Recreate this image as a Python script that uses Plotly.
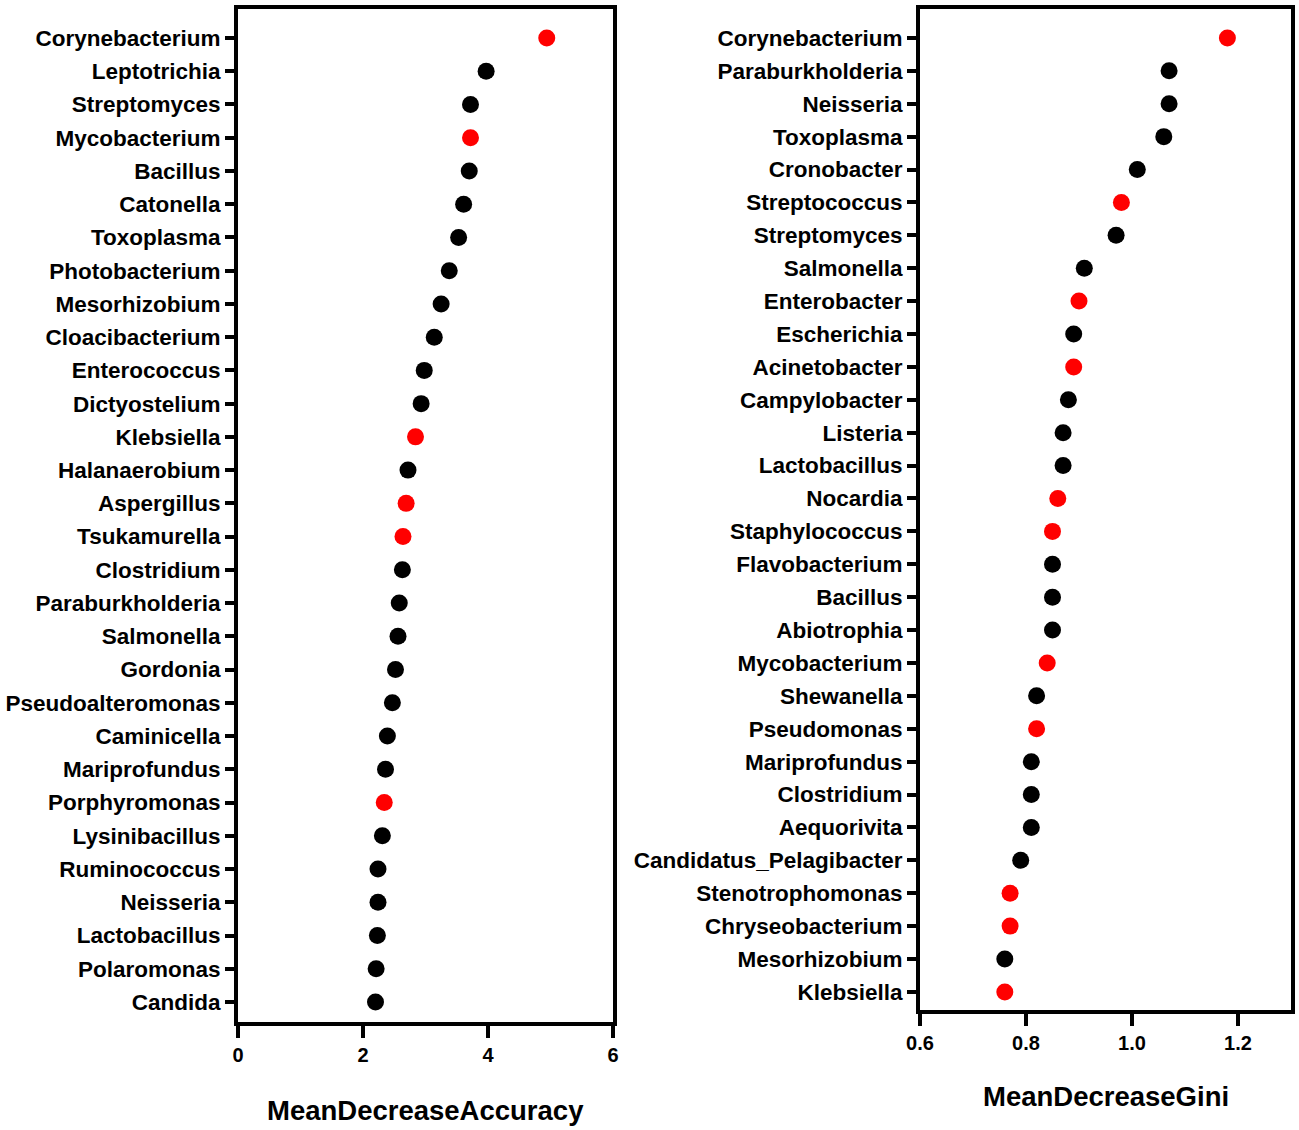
import plotly.graph_objects as go
from plotly.subplots import make_subplots

# left panel: MeanDecreaseAccuracy
acc_names = ['Corynebacterium', 'Leptotrichia', 'Streptomyces', 'Mycobacterium', 'Bacillus',
             'Catonella', 'Toxoplasma', 'Photobacterium', 'Mesorhizobium', 'Cloacibacterium',
             'Enterococcus', 'Dictyostelium', 'Klebsiella', 'Halanaerobium', 'Aspergillus',
             'Tsukamurella', 'Clostridium', 'Paraburkholderia', 'Salmonella', 'Gordonia',
             'Pseudoalteromonas', 'Caminicella', 'Mariprofundus', 'Porphyromonas', 'Lysinibacillus',
             'Ruminococcus', 'Neisseria', 'Lactobacillus', 'Polaromonas', 'Candida']
acc_values = [4.94, 3.97, 3.72, 3.72, 3.70, 3.61, 3.53, 3.38, 3.25, 3.14,
              2.98, 2.93, 2.84, 2.72, 2.69, 2.64, 2.63, 2.58, 2.56, 2.52,
              2.47, 2.39, 2.36, 2.34, 2.31, 2.24, 2.24, 2.23, 2.21, 2.20]
acc_red = ['Corynebacterium', 'Mycobacterium', 'Klebsiella', 'Aspergillus',
           'Tsukamurella', 'Porphyromonas']

# right panel: MeanDecreaseGini
gini_names = ['Corynebacterium', 'Paraburkholderia', 'Neisseria', 'Toxoplasma', 'Cronobacter',
              'Streptococcus', 'Streptomyces', 'Salmonella', 'Enterobacter', 'Escherichia',
              'Acinetobacter', 'Campylobacter', 'Listeria', 'Lactobacillus', 'Nocardia',
              'Staphylococcus', 'Flavobacterium', 'Bacillus', 'Abiotrophia', 'Mycobacterium',
              'Shewanella', 'Pseudomonas', 'Mariprofundus', 'Clostridium', 'Aequorivita',
              'Candidatus_Pelagibacter', 'Stenotrophomonas', 'Chryseobacterium', 'Mesorhizobium',
              'Klebsiella']
gini_values = [1.18, 1.07, 1.07, 1.06, 1.01, 0.98, 0.97, 0.91, 0.90, 0.89,
               0.89, 0.88, 0.87, 0.87, 0.86, 0.85, 0.85, 0.85, 0.85, 0.84,
               0.82, 0.82, 0.81, 0.81, 0.81, 0.79, 0.77, 0.77, 0.76, 0.76]
gini_red = ['Corynebacterium', 'Streptococcus', 'Enterobacter', 'Acinetobacter', 'Nocardia',
            'Staphylococcus', 'Mycobacterium', 'Pseudomonas', 'Stenotrophomonas',
            'Chryseobacterium', 'Klebsiella']

W, H = 1299, 1130
FONT = 'Liberation Sans'


def colours(names, red):
    return ['#ff0000' if n in red else '#000000' for n in names]


fig = make_subplots(rows=1, cols=2)

fig.add_trace(go.Scatter(x=acc_values, y=list(range(len(acc_names))), mode='markers',
                         marker=dict(size=17, color=colours(acc_names, acc_red)),
                         showlegend=False), row=1, col=1)
fig.add_trace(go.Scatter(x=gini_values, y=list(range(len(gini_names))), mode='markers',
                         marker=dict(size=17, color=colours(gini_names, gini_red)),
                         showlegend=False), row=1, col=2)

axis_style = dict(showline=True, linecolor='black', linewidth=4, mirror=True,
                  ticks='outside', tickwidth=4, tickcolor='black',
                  showgrid=False, zeroline=False, automargin=False)

fig.update_xaxes(**axis_style, ticklen=12,
                 tickfont=dict(family=FONT, size=20, color='black', weight='bold'))
fig.update_yaxes(**axis_style, ticklen=9,
                 tickfont=dict(family=FONT, size=22.5, color='black', weight='bold'))

fig.update_layout(
    width=W, height=H,
    margin=dict(l=0, r=0, t=0, b=0),
    plot_bgcolor='white', paper_bgcolor='white',
    xaxis=dict(domain=[238 / W, 613 / W], range=[0, 6], tickvals=[0, 2, 4, 6]),
    xaxis2=dict(domain=[920 / W, 1291 / W], range=[0.6, 1.3],
                tickvals=[0.6, 0.8, 1.0, 1.2], ticktext=['0.6', '0.8', '1.0', '1.2']),
    yaxis=dict(domain=[1 - 1022 / H, 1 - 9 / H], range=[len(acc_names) - 1 + 0.6, -0.87],
               tickvals=list(range(len(acc_names))), ticktext=acc_names),
    yaxis2=dict(domain=[1 - 1010 / H, 1 - 9 / H], range=[len(gini_names) - 1 + 0.55, -0.88],
                tickvals=list(range(len(gini_names))), ticktext=gini_names),
    annotations=[
        dict(text='<b>MeanDecreaseAccuracy</b>', x=(238 + 613) / 2 / W, y=1 - 1110 / H,
             xref='paper', yref='paper', showarrow=False, xanchor='center', yanchor='middle',
             font=dict(family=FONT, size=27.5, color='black')),
        dict(text='<b>MeanDecreaseGini</b>', x=(920 + 1291) / 2 / W, y=1 - 1096 / H,
             xref='paper', yref='paper', showarrow=False, xanchor='center', yanchor='middle',
             font=dict(family=FONT, size=27.5, color='black')),
    ],
)

fig.write_html('out.html', config={'displayModeBar': False},
               post_script="document.body.style.margin='0';")
